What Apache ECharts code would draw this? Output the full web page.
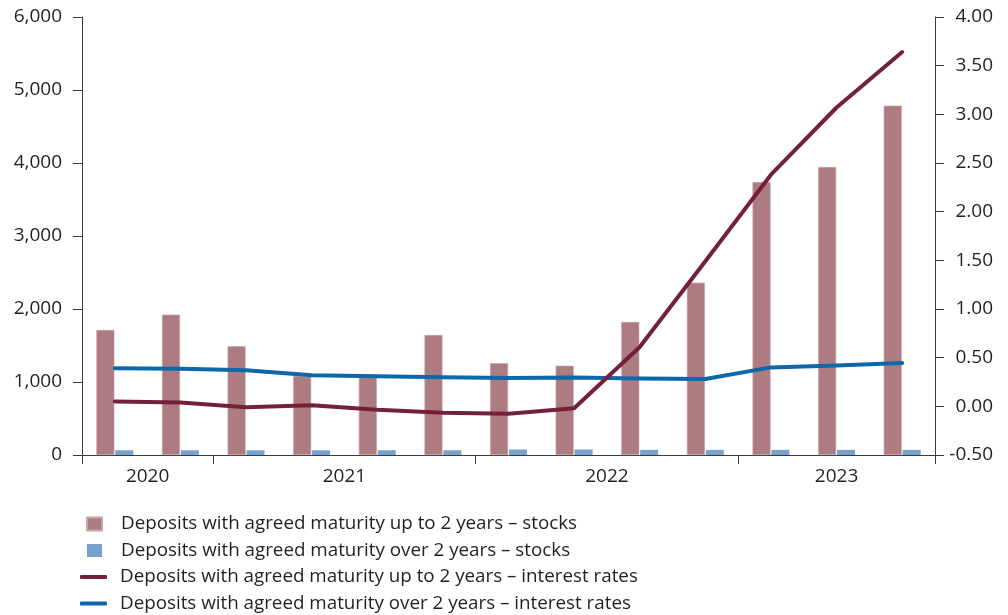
<!DOCTYPE html>
<html>
<head>
<meta charset="utf-8">
<script src="https://cdn.jsdelivr.net/npm/echarts@6/dist/echarts.min.js"></script>
<style>
html,body{margin:0;padding:0;background:#fff;}
#chart{width:1008px;height:615px;}
</style>
</head>
<body>
<div id="chart"></div>
<script>
// Quarterly periods
const categories = ['2020 Q3','2020 Q4','2021 Q1','2021 Q2','2021 Q3','2021 Q4','2022 Q1','2022 Q2','2022 Q3','2022 Q4','2023 Q1','2023 Q2','2023 Q3'];
// Stocks (left axis)
const stocksUpTo2 = [1712, 1922, 1489, 1082, 1064, 1644, 1256, 1223, 1822, 2360, 3740, 3945, 4785];
const stocksOver2 = [65, 65, 65, 65, 65, 65, 75, 75, 70, 70, 70, 70, 70];
// Interest rates (right axis)
const ratesUpTo2 = [0.05, 0.04, -0.01, 0.01, -0.035, -0.065, -0.075, -0.02, 0.61, 1.49, 2.38, 3.07, 3.64];
const ratesOver2 = [0.39, 0.385, 0.37, 0.32, 0.31, 0.30, 0.29, 0.295, 0.285, 0.28, 0.40, 0.42, 0.445];
// Axis ticks
const leftTicks = [0, 1000, 2000, 3000, 4000, 5000, 6000];
const rightTicks = [-0.5, 0, 0.5, 1, 1.5, 2, 2.5, 3, 3.5, 4];
const seriesNames = [
  'Deposits with agreed maturity up to 2 years \u2013 stocks',
  'Deposits with agreed maturity over 2 years \u2013 stocks',
  'Deposits with agreed maturity up to 2 years \u2013 interest rates',
  'Deposits with agreed maturity over 2 years \u2013 interest rates'
];

// year groups derived from categories
const years = categories.map(c => c.split(' ')[0]);
const yearBounds = [0];
for (let i = 1; i < years.length; i++) if (years[i] !== years[i-1]) yearBounds.push(i);
yearBounds.push(categories.length);
const yearLabelPos = [];
const yearLabelText = {};
for (let i = 0; i < yearBounds.length - 1; i++) {
  const p = (yearBounds[i] + yearBounds[i+1]) / 2;
  yearLabelPos.push(p);
  yearLabelText[p] = years[yearBounds[i]];
}

const FONT = 'Open Sans';
const FS = 19;
const LFS = 18.8;
const TXT = '#231f20';
const AX = '#3a3a3a';

const chart = echarts.init(document.getElementById('chart'));
chart.setOption({
  animation: false,
  textStyle: {fontFamily: FONT, color: TXT},
  grid: {left: 82, right: 73, top: 17, bottom: 160, containLabel: false},
  xAxis: [
    {
      type: 'category', data: categories, boundaryGap: true,
      axisLine: {show: true, lineStyle: {color: AX, width: 1}},
      axisTick: {show: true, length: 9, lineStyle: {color: AX},
        interval: (idx) => yearBounds.indexOf(idx) >= 0},
      axisLabel: {show: false}
    },
    {
      type: 'value', min: 0, max: categories.length, position: 'bottom',
      axisLine: {show: false},
      splitLine: {show: false},
      axisTick: {show: false},
      axisLabel: {show: true, customValues: yearLabelPos, formatter: v => yearLabelText[v] || '',
        fontSize: FS, color: TXT, margin: 12, fontFamily: FONT}
    }
  ],
  yAxis: [
    {
      type: 'value', min: leftTicks[0], max: leftTicks[leftTicks.length-1], interval: leftTicks[1]-leftTicks[0],
      axisLine: {show: true, lineStyle: {color: AX}},
      axisTick: {show: true, length: 9, lineStyle: {color: AX}},
      splitLine: {show: false},
      axisLabel: {fontSize: FS, color: TXT, margin: 20, fontFamily: FONT,
        formatter: v => v.toLocaleString('en-US')}
    },
    {
      type: 'value', min: rightTicks[0], max: rightTicks[rightTicks.length-1], interval: rightTicks[1]-rightTicks[0],
      position: 'right',
      axisLine: {show: true, lineStyle: {color: AX}},
      axisTick: {show: true, length: 9, lineStyle: {color: AX}},
      splitLine: {show: false},
      axisLabel: {fontSize: FS, color: TXT, margin: 58, align: 'right', fontFamily: FONT,
        formatter: v => v.toFixed(2)}
    }
  ],
  legend: [
    {
      orient: 'vertical', left: 86, top: 514, itemWidth: 15, itemHeight: 13, itemGap: 6.5, padding: 0,
      icon: 'rect',
      data: [seriesNames[0], seriesNames[1]],
      textStyle: {fontSize: LFS, color: TXT, fontFamily: FONT, lineHeight: 20, padding: [0,0,0,14]}
    },
    {
      orient: 'vertical', left: 80, top: 567, itemWidth: 27, itemHeight: 4, itemGap: 6.5, padding: 0,
      icon: 'roundRect',
      data: [seriesNames[2], seriesNames[3]],
      textStyle: {fontSize: LFS, color: TXT, fontFamily: FONT, lineHeight: 20, padding: [0,0,0,8]}
    }
  ],
  series: [
    {name: seriesNames[0], type: 'bar', xAxisIndex: 0, yAxisIndex: 0, data: stocksUpTo2,
      barWidth: 18, barGap: '5%', itemStyle: {color: '#ac7c81', borderColor: '#c9a3a7', borderWidth: 0.6}},
    {name: seriesNames[1], type: 'bar', xAxisIndex: 0, yAxisIndex: 0, data: stocksOver2,
      barWidth: 18, itemStyle: {color: '#77a1cf'}},
    {name: seriesNames[3], type: 'line', xAxisIndex: 0, yAxisIndex: 1, data: ratesOver2,
      symbol: 'none', lineStyle: {color: '#0c68a9', width: 4, join: 'round', cap: 'round'}, itemStyle: {color: '#0c68a9'}, z: 3},
    {name: seriesNames[2], type: 'line', xAxisIndex: 0, yAxisIndex: 1, data: ratesUpTo2,
      symbol: 'none', lineStyle: {color: '#74203d', width: 4, join: 'round', cap: 'round'}, itemStyle: {color: '#74203d'}, z: 4}
  ]
});
</script>
</body>
</html>
